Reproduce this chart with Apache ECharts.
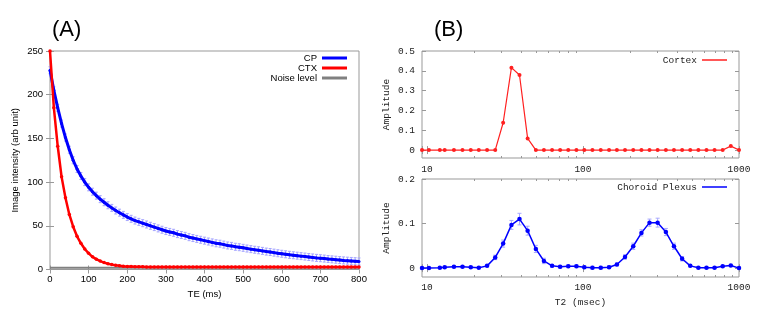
<!DOCTYPE html>
<html>
<head>
<meta charset="utf-8">
<script src="https://cdn.jsdelivr.net/npm/echarts@6/dist/echarts.min.js"></script>
<style>
  html, body { margin: 0; padding: 0; background: #fff; }
  #chart { width: 767px; height: 319px; }
</style>
</head>
<body>
<div id="chart"></div>
<script>
// (A) echo decay, TE in ms
var teMs = [
  0, 10, 20, 30, 40, 50, 60, 70, 80, 90,
  100, 110, 120, 130, 140, 150, 160, 170, 180, 190,
  200, 210, 220, 230, 240, 250, 260, 270, 280, 290,
  300, 310, 320, 330, 340, 350, 360, 370, 380, 390,
  400, 410, 420, 430, 440, 450, 460, 470, 480, 490,
  500, 510, 520, 530, 540, 550, 560, 570, 580, 590,
  600, 610, 620, 630, 640, 650, 660, 670, 680, 690,
  700, 710, 720, 730, 740, 750, 760, 770, 780, 790,
  800
];
var cpIntensity = [
  228, 205, 185, 167, 151, 137, 125, 115, 107, 100,
  94, 89, 84.5, 80.5, 77, 73.5, 70.5, 67.5, 65, 62.5,
  60, 58, 56, 54.5, 53, 51.5, 50, 48.5, 47, 45.5,
  44, 43, 42, 40.5, 39.5, 38.5, 37, 36, 35, 34,
  33, 32, 31, 30, 29.5, 28.5, 27.5, 27, 26, 25.5,
  24.8, 24, 23.3, 22.6, 22, 21.3, 20.5, 20, 19.3, 18.6,
  18, 17.4, 16.8, 16.3, 15.8, 15.3, 14.8, 14.3, 13.8, 13.3,
  12.9, 12.5, 12, 11.6, 11.2, 10.8, 10.4, 10.1, 9.8, 9.5,
  9.2
];
var ctxIntensity = [
  250, 185, 141, 106, 82, 63, 49, 38, 30, 23.5,
  18.5, 14.5, 11.8, 9.6, 7.9, 6.6, 5.6, 4.8, 4.2, 3.7,
  3.4, 3.3, 3.2, 3.1, 3.1, 3, 3, 3, 3, 3,
  3, 3, 2.9, 3, 3, 3, 3, 2.9, 3, 3,
  3, 3, 3, 3, 2.9, 3, 3, 3, 3, 3,
  3, 2.9, 3, 3, 3, 3, 3, 3, 2.9, 3,
  3, 3, 3, 3, 3, 3, 2.9, 3, 3, 3,
  3, 3, 3, 3, 3, 2.9, 3, 3, 3, 3,
  3
];
var cpErr = 4;
var noiseLevel = 2;

// (B) T2 distributions, T2 in msec
var t2Ms = [
  9.3, 10.3, 12.1, 13.0, 14.9, 16.9, 19.1, 21.5, 24.3, 27.4,
  30.8, 34.8, 39.2, 44.2, 49.9, 56.2, 63.4, 71.4, 80.5, 90.8,
  102, 115, 130, 147, 165, 186, 210, 237, 267, 301,
  340, 383, 432, 487, 549, 619, 697, 786, 886, 1000
];
var cortexAmp = [
  0, 0, 0, 0, 0, 0, 0, 0, 0, 0,
  0.138, 0.416, 0.379, 0.059, 0, 0, 0, 0, 0, 0,
  0, 0, 0, 0, 0, 0, 0, 0, 0, 0,
  0, 0, 0, 0, 0, 0, 0, 0, 0.02, 0
];
var choroidAmp = [
  0, 0, 0.001, 0.002, 0.003, 0.003, 0.002, 0.001, 0.005, 0.024,
  0.055, 0.097, 0.110, 0.084, 0.043, 0.016, 0.005, 0.003, 0.004, 0.004,
  0.002, 0.001, 0.001, 0.002, 0.008, 0.025, 0.049, 0.079, 0.102, 0.102,
  0.081, 0.049, 0.021, 0.005, 0.001, 0.001, 0.001, 0.004, 0.006, 0
];
var choroidErr = [
  0.002, 0.002, 0.002, 0.002, 0.002, 0.002, 0.002, 0.002, 0.002, 0.005,
  0.008, 0.010, 0.013, 0.010, 0.008, 0.006, 0.003, 0.003, 0.003, 0.003,
  0.003, 0.003, 0.003, 0.003, 0.003, 0.005, 0.007, 0.007, 0.008, 0.010,
  0.008, 0.007, 0.005, 0.002, 0.002, 0.002, 0.002, 0.002, 0.002, 0.002
];
var ampTicksTop = [0, 0.1, 0.2, 0.3, 0.4, 0.5];
var ampTicksBottom = [0, 0.1, 0.2];
var t2MinorTicks = [20, 30, 40, 50, 60, 70, 80, 90, 200, 300, 400, 500, 600, 700, 800, 900];

function zip (xs, ys) {
  return xs.map(function (x, i) { return [x, ys[i]]; });
}
function zip3 (xs, ys, es) {
  return xs.map(function (x, i) { return [x, ys[i], es[i]]; });
}

// 误差棒
function errorBar (capHalf) {
  return function (params, api) {
    var x = api.value(0);
    var hi = api.coord([x, api.value(1) + api.value(2)]);
    var lo = api.coord([x, api.value(1) - api.value(2)]);
    var style = { stroke: api.visual('color'), lineWidth: 1 };
    return {
      type: 'group',
      children: [
        { type: 'line', shape: { x1: hi[0], y1: hi[1], x2: lo[0], y2: lo[1] }, style: style },
        { type: 'line', shape: { x1: hi[0] - capHalf, y1: hi[1], x2: hi[0] + capHalf, y2: hi[1] }, style: style },
        { type: 'line', shape: { x1: lo[0] - capHalf, y1: lo[1], x2: lo[0] + capHalf, y2: lo[1] }, style: style }
      ]
    };
  };
}

var sans = 'Liberation Sans, Arial, sans-serif';
var mono = 'Liberation Mono, Courier New, monospace';
var frame = '#999999';

function logLabel (v) {
  var l = Math.log10(v);
  return Math.abs(l - Math.round(l)) < 1e-6 ? String(Math.round(v)) : '';
}
function ampLabel (v) {
  return v === 0 ? '0' : v.toFixed(1);
}

var tickIn = { show: true, inside: true, length: 4, lineStyle: { color: frame } };

// 对数轴的次刻度 (20..90, 200..900)
function minorLogAxis (grid, pos) {
  return {
    gridIndex: grid, type: 'log', logBase: 10, position: pos, min: 9.3, max: 1000,
    axisLine: { show: false }, axisLabel: { show: false }, splitLine: { show: false },
    axisTick: { show: true, inside: true, length: 2, lineStyle: { color: frame }, customValues: t2MinorTicks }
  };
}

var chart = echarts.init(document.getElementById('chart'));
chart.setOption({
  animation: false,
  title: [
    { text: '(A)', left: 52, top: 19, padding: 0, textStyle: { fontFamily: sans, fontSize: 22, fontWeight: 'normal', color: '#000' } },
    { text: '(B)', left: 434, top: 19, padding: 0, textStyle: { fontFamily: sans, fontSize: 22, fontWeight: 'normal', color: '#000' } }
  ],
  legend: [
    {
      data: ['CP', 'CTX', 'Noise level'],
      orient: 'vertical',
      right: 420,
      top: 53,
      padding: 0,
      itemGap: 0,
      itemWidth: 25,
      itemHeight: 3,
      align: 'right',
      icon: 'rect',
      textStyle: { fontFamily: sans, fontSize: 9.5, lineHeight: 9.5, color: '#000' }
    },
    {
      data: ['Cortex'],
      right: 40,
      top: 55,
      padding: 0,
      itemWidth: 25,
      itemHeight: 1.5,
      align: 'right',
      icon: 'rect',
      textStyle: { fontFamily: mono, fontSize: 9.5, color: '#222' }
    },
    {
      data: ['Choroid Plexus'],
      right: 40,
      top: 182,
      padding: 0,
      itemWidth: 25,
      itemHeight: 1.5,
      align: 'right',
      icon: 'rect',
      textStyle: { fontFamily: mono, fontSize: 9.5, color: '#222' }
    }
  ],
  grid: [
    { left: 50, top: 51, width: 309, height: 218.5, show: true, borderColor: frame, borderWidth: 1 },
    { left: 422, top: 51, width: 317, height: 107, show: true, borderColor: frame, borderWidth: 1 },
    { left: 422, top: 179, width: 317, height: 98, show: true, borderColor: frame, borderWidth: 1 }
  ],
  xAxis: [
    {
      gridIndex: 0, type: 'value', min: 0, max: 800, interval: 100,
      axisLine: { show: false }, axisTick: tickIn, splitLine: { show: false },
      axisLabel: { fontFamily: sans, fontSize: 9.5, color: '#000', margin: 5 },
      name: 'TE (ms)', nameLocation: 'middle', nameGap: 19,
      nameTextStyle: { fontFamily: sans, fontSize: 9.5, color: '#000' }
    },
    {
      gridIndex: 0, type: 'value', position: 'top', min: 0, max: 800, interval: 100,
      axisLine: { show: false }, axisTick: tickIn, axisLabel: { show: false }, splitLine: { show: false }
    },
    {
      gridIndex: 1, type: 'log', logBase: 10, min: 9.3, max: 1000,
      axisLine: { show: false }, axisTick: tickIn, splitLine: { show: false },
      axisLabel: { fontFamily: mono, fontSize: 9.5, color: '#222', margin: 6, formatter: logLabel }
    },
    {
      gridIndex: 1, type: 'log', logBase: 10, position: 'top', min: 9.3, max: 1000,
      axisLine: { show: false }, axisTick: tickIn, axisLabel: { show: false }, splitLine: { show: false }
    },
    {
      gridIndex: 2, type: 'log', logBase: 10, min: 9.3, max: 1000,
      axisLine: { show: false }, axisTick: tickIn, splitLine: { show: false },
      axisLabel: { fontFamily: mono, fontSize: 9.5, color: '#222', margin: 5, formatter: logLabel },
      name: 'T2 (msec)', nameLocation: 'middle', nameGap: 20,
      nameTextStyle: { fontFamily: mono, fontSize: 9.5, color: '#222' }
    },
    {
      gridIndex: 2, type: 'log', logBase: 10, position: 'top', min: 9.3, max: 1000,
      axisLine: { show: false }, axisTick: tickIn, axisLabel: { show: false }, splitLine: { show: false }
    },
    minorLogAxis(1, 'bottom'),
    minorLogAxis(1, 'top'),
    minorLogAxis(2, 'bottom'),
    minorLogAxis(2, 'top')
  ],
  yAxis: [
    {
      gridIndex: 0, type: 'value', min: 0, max: 250, interval: 50,
      axisLine: { show: false }, axisTick: tickIn, splitLine: { show: false },
      axisLabel: { fontFamily: sans, fontSize: 9.5, color: '#000', margin: 7 },
      name: 'Image intensity (arb unit)', nameLocation: 'middle', nameGap: 30,
      nameTextStyle: { fontFamily: sans, fontSize: 9.5, color: '#000' }
    },
    {
      gridIndex: 0, type: 'value', position: 'right', min: 0, max: 250, interval: 50,
      axisLine: { show: false }, axisTick: tickIn, axisLabel: { show: false }, splitLine: { show: false }
    },
    {
      gridIndex: 1, type: 'value', min: -0.04, max: 0.5,
      axisLine: { show: false }, splitLine: { show: false },
      axisTick: { show: true, inside: true, length: 4, lineStyle: { color: frame }, customValues: ampTicksTop },
      axisLabel: { fontFamily: mono, fontSize: 9.5, color: '#222', margin: 7, customValues: ampTicksTop, formatter: ampLabel },
      name: 'Amplitude', nameLocation: 'middle', nameGap: 31,
      nameTextStyle: { fontFamily: mono, fontSize: 9.5, color: '#222' }
    },
    {
      gridIndex: 1, type: 'value', position: 'right', min: -0.04, max: 0.5,
      axisLine: { show: false }, splitLine: { show: false }, axisLabel: { show: false },
      axisTick: { show: true, inside: true, length: 4, lineStyle: { color: frame }, customValues: ampTicksTop }
    },
    {
      gridIndex: 2, type: 'value', min: -0.02, max: 0.2,
      axisLine: { show: false }, splitLine: { show: false },
      axisTick: { show: true, inside: true, length: 4, lineStyle: { color: frame }, customValues: ampTicksBottom },
      axisLabel: { fontFamily: mono, fontSize: 9.5, color: '#222', margin: 7, customValues: ampTicksBottom, formatter: ampLabel },
      name: 'Amplitude', nameLocation: 'middle', nameGap: 31,
      nameTextStyle: { fontFamily: mono, fontSize: 9.5, color: '#222' }
    },
    {
      gridIndex: 2, type: 'value', position: 'right', min: -0.02, max: 0.2,
      axisLine: { show: false }, splitLine: { show: false }, axisLabel: { show: false },
      axisTick: { show: true, inside: true, length: 4, lineStyle: { color: frame }, customValues: ampTicksBottom }
    }
  ],
  series: [
    {
      name: 'Noise level', type: 'line', xAxisIndex: 0, yAxisIndex: 0,
      data: [[0, noiseLevel], [800, noiseLevel]],
      symbol: 'none', color: '#808080', lineStyle: { width: 2 }, z: 2
    },
    {
      name: 'CP error', type: 'custom', xAxisIndex: 0, yAxisIndex: 0,
      data: zip3(teMs, cpIntensity, teMs.map(function () { return cpErr; })),
      encode: { x: 0, y: 1 }, renderItem: errorBar(1.5),
      itemStyle: { color: '#a6a6ff' }, z: 2
    },
    {
      name: 'CP', type: 'line', xAxisIndex: 0, yAxisIndex: 0,
      data: zip(teMs, cpIntensity),
      symbol: 'circle', symbolSize: 3, color: '#0000ff', lineStyle: { width: 3 }, z: 3
    },
    {
      name: 'CTX', type: 'line', xAxisIndex: 0, yAxisIndex: 0,
      data: zip(teMs, ctxIntensity),
      symbol: 'circle', symbolSize: 3.5, color: '#ff0000', lineStyle: { width: 2.5 }, z: 4
    },
    {
      name: 'Cortex', type: 'line', xAxisIndex: 2, yAxisIndex: 2,
      data: zip(t2Ms, cortexAmp),
      symbol: 'circle', symbolSize: 4, color: '#ff2020', lineStyle: { width: 1.2 }, z: 3
    },
    {
      name: 'Choroid Plexus error', type: 'custom', xAxisIndex: 4, yAxisIndex: 4,
      data: zip3(t2Ms, choroidAmp, choroidErr),
      encode: { x: 0, y: 1 }, renderItem: errorBar(2),
      itemStyle: { color: '#a8a8ff' }, z: 2
    },
    {
      name: 'Choroid Plexus', type: 'line', xAxisIndex: 4, yAxisIndex: 4,
      data: zip(t2Ms, choroidAmp),
      symbol: 'circle', symbolSize: 4.5, color: '#0000ff', lineStyle: { width: 1.5 }, z: 3
    }
  ]
});
</script>
</body>
</html>
